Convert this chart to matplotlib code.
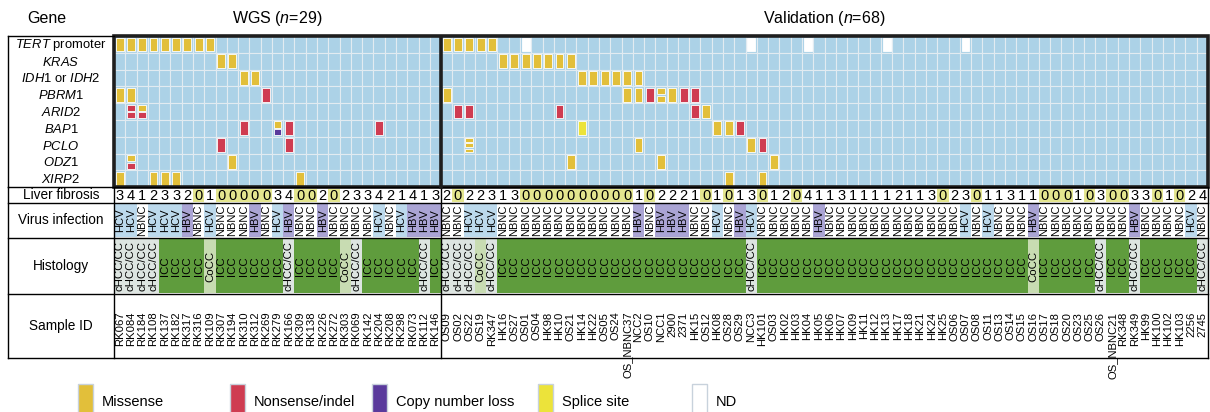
import matplotlib
matplotlib.use("Agg")
import matplotlib.pyplot as plt
from matplotlib.patches import Rectangle

plt.rcParams['font.family'] = ['Liberation Sans', 'DejaVu Sans']
plt.rcParams['mathtext.fontset'] = 'custom'
plt.rcParams['mathtext.it'] = 'Liberation Sans:italic'
plt.rcParams['mathtext.rm'] = 'Liberation Sans'

# ---------------- data ----------------
gene_labels = [r"$\it{TERT}$ promoter", r"$\it{KRAS}$", r"$\it{IDH1}$ or $\it{IDH2}$",
               r"$\it{PBRM1}$", r"$\it{ARID2}$", r"$\it{BAP1}$", r"$\it{PCLO}$",
               r"$\it{ODZ1}$", r"$\it{XIRP2}$"]

wgs_ids = ("RK067 RK084 RK184 RK108 RK137 RK182 RK317 RK316 RK109 RK307 RK194 RK310 "
           "RK312 RK269 RK279 RK166 RK309 RK138 RK226 RK272 RK303 RK069 RK142 RK204 "
           "RK208 RK298 RK073 RK112 RK146").split()
val_ids = ("OS09 OS02 OS22 OS19 RK347 HK16 OS27 OS01 OS04 HK98 HK10 OS21 HK14 HK22 OS05 "
           "OS24 OS_NBNC37 NCC2 OS10 NCC1 2900 2371 HK15 OS12 HK08 OS28 OS29 NCC3 HK101 "
           "OS03 HK02 HK03 HK04 HK05 HK06 HK07 HK09 HK11 HK12 HK13 HK17 HK18 HK21 HK24 "
           "HK25 OS06 OS07 OS08 OS11 OS13 OS14 OS15 OS16 OS17 OS18 OS20 OS23 OS25 OS26 "
           "OS_NBNC21 RK348 RK349 HK99 HK100 HK102 HK103 2256 2745").split()

wgs_fibrosis = [3, 4, 1, 2, 3, 3, 2, 0, 1, 0, 0, 0, 0, 0, 3, 4, 0, 0, 2, 0, 2, 3, 3, 4, 2, 1, 4, 1, 3]
val_fibrosis = [2, 0, 2, 2, 3, 1, 3, 0, 0, 0, 0, 0, 0, 0, 0, 0, 0, 1, 0, 2, 2, 2, 1, 0, 1, 0, 1, 3,
                0, 1, 2, 0, 4, 1, 1, 3, 1, 1, 1, 1, 2, 1, 1, 3, 0, 2, 3, 0, 1, 1, 3, 1, 1, 0, 0, 0,
                1, 0, 3, 0, 0, 3, 3, 0, 1, 0, 2, 4]

wgs_virus = ("HCV HCV NBNC HCV HCV HCV HBV NBNC HCV NBNC NBNC NBNC HBV NBNC HCV HBV NBNC "
             "NBNC HBV NBNC NBNC NBNC NBNC HCV NBNC HCV HBV HBV HBV").split()
val_virus = ("NBNC NBNC HCV HCV HCV NBNC NBNC NBNC NBNC NBNC NBNC NBNC NBNC NBNC NBNC NBNC "
             "NBNC HBV NBNC HBV HBV HBV NBNC NBNC HCV NBNC HBV HCV NBNC NBNC NBNC NBNC NBNC "
             "HBV NBNC NBNC NBNC NBNC NBNC NBNC NBNC NBNC NBNC NBNC NBNC NBNC HCV NBNC HCV "
             "NBNC NBNC NBNC HBV NBNC NBNC NBNC NBNC NBNC NBNC NBNC NBNC HBV NBNC NBNC NBNC "
             "NBNC HCV NBNC").split()

wgs_histology = ("cHCC/CC cHCC/CC cHCC/CC cHCC/CC ICC ICC ICC ICC CoCC ICC ICC ICC ICC ICC "
                 "ICC cHCC/CC ICC ICC ICC ICC CoCC cHCC/CC ICC ICC ICC ICC ICC cHCC/CC ICC").split()
val_histology = ("cHCC/CC cHCC/CC cHCC/CC CoCC cHCC/CC ICC ICC ICC ICC ICC ICC ICC ICC ICC ICC "
                 "ICC ICC ICC ICC ICC ICC ICC ICC ICC ICC ICC ICC cHCC/CC ICC ICC ICC ICC ICC "
                 "ICC ICC ICC ICC ICC ICC ICC ICC ICC ICC ICC ICC ICC ICC ICC ICC ICC ICC ICC "
                 "CoCC ICC ICC ICC ICC ICC cHCC/CC ICC ICC cHCC/CC ICC ICC ICC ICC ICC cHCC/CC").split()

# mutation codes per gene row: sample number (1-based) -> codes
# M missense, N nonsense/indel, C copy number loss, S splice site, D not determined
wgs_mut = [
    {1: "M", 2: "M", 3: "M", 4: "M", 5: "M", 6: "M", 7: "M", 8: "M", 9: "M"},
    {10: "M", 11: "M"},
    {12: "M", 13: "M"},
    {1: "M", 2: "M", 14: "N"},
    {2: "NN", 3: "MN"},
    {12: "N", 15: "MC", 16: "N", 24: "N"},
    {10: "N", 16: "N"},
    {2: "MN", 11: "M"},
    {1: "M", 4: "M", 5: "M", 6: "M", 17: "M"},
]
val_mut = [
    {1: "M", 2: "M", 3: "M", 4: "M", 5: "M", 8: "D", 28: "D", 33: "D", 40: "D", 47: "D"},
    {6: "M", 7: "M", 8: "M", 9: "M", 10: "M", 11: "M", 12: "M"},
    {13: "M", 14: "M", 15: "M", 16: "M", 17: "M", 18: "M"},
    {1: "M", 17: "M", 18: "M", 19: "N", 20: "MM", 21: "M", 22: "N", 23: "N"},
    {2: "N", 3: "N", 11: "N", 23: "N", 24: "M"},
    {13: "S", 25: "M", 26: "M", 27: "N"},
    {3: "MMM", 18: "M", 28: "M", 29: "N"},
    {12: "M", 20: "M", 30: "M"},
    {26: "M", 29: "M"},
]

legend_labels = ["Missense", "Nonsense/indel", "Copy number loss", "Splice site", "ND"]
legend_codes = ["M", "N", "C", "S", "D"]

# ---------------- styles ----------------
mut_colors = {"M": "#e2bf3a", "N": "#cf3c51", "C": "#5a3a9c", "S": "#ece33a", "D": "#ffffff"}
virus_colors = {"HCV": "#bcd9ec", "HBV": "#aaa4d4", "NBNC": "#ffffff"}
hist_colors = {"ICC": "#5f9c3d", "cHCC/CC": "#dde5e1", "CoCC": "#c8dcb2"}
cell_blue = "#acd2e7"
zero_color = "#e4e68f"

n_genes = len(gene_labels)
ids = wgs_ids + val_ids
fibrosis = wgs_fibrosis + val_fibrosis
virus = wgs_virus + val_virus
histology = wgs_histology + val_histology
n_wgs = len(wgs_ids)
n_all = len(ids)
label_left = -9.4

# row boundaries (gene rows are 1 unit each)
fib_top, vir_top, his_top, sam_top, bottom = 9.0, 9.94, 12.02, 15.36, 19.17

fig = plt.figure(figsize=(12.1, 4.12), dpi=100)
ax = fig.add_axes([8 / 1210, (412 - 358) / 412, 1200 / 1210, 322 / 412])
ax.set_xlim(label_left, n_all)
ax.set_ylim(bottom, 0)
ax.axis("off")

# gene matrix background cells
for g in range(n_genes):
    for i in range(n_all):
        ax.add_patch(Rectangle((i, g), 1, 1, facecolor=cell_blue,
                               edgecolor="#e2ebf1", lw=0.8))


def draw_mut(x, y, codes):
    n = len(codes)
    gap = 0.1
    h = (0.82 - gap * (n - 1)) / n
    for k, c in enumerate(codes):
        ax.add_patch(Rectangle((x + 0.15, y + 0.09 + k * (h + gap)), 0.7, h,
                               facecolor=mut_colors[c], edgecolor="white", lw=0.6))


for g in range(n_genes):
    for s, codes in wgs_mut[g].items():
        draw_mut(s - 1, g, codes)
    for s, codes in val_mut[g].items():
        draw_mut(n_wgs + s - 1, g, codes)

# gene labels
for g, lab in enumerate(gene_labels):
    ax.text(label_left / 2, g + 0.55, lab, ha="center", va="center", fontsize=9.4)

# liver fibrosis
for i, v in enumerate(fibrosis):
    if v == 0:
        ax.add_patch(Rectangle((i, fib_top + 0.08), 1, vir_top - fib_top - 0.16,
                               facecolor=zero_color, edgecolor="none"))
    ax.text(i + 0.5, (fib_top + vir_top) / 2 + 0.05, str(v), ha="center", va="center",
            fontsize=10.5)

# virus infection
for i, v in enumerate(virus):
    ax.add_patch(Rectangle((i, vir_top + 0.05), 1, his_top - vir_top - 0.1,
                           facecolor=virus_colors[v], edgecolor="none"))
    ax.text(i + 0.5, (vir_top + his_top) / 2, v, ha="center", va="center",
            rotation=90, fontsize=8)

# histology
for i, h in enumerate(histology):
    ax.add_patch(Rectangle((i, his_top + 0.05), 1, sam_top - his_top - 0.1,
                           facecolor=hist_colors[h], edgecolor="none"))
    ax.text(i + 0.5, (his_top + sam_top) / 2, h, ha="center", va="center",
            rotation=90, fontsize=8.2)

# sample IDs
for i, s in enumerate(ids):
    ax.text(i + 0.5, sam_top + 1.05, s, ha="center", va="top", rotation=90,
            fontsize=8.1, clip_on=False)

# row labels
for lab, y0, y1 in [("Liver fibrosis", fib_top, vir_top), ("Virus infection", vir_top, his_top),
                    ("Histology", his_top, sam_top), ("Sample ID", sam_top, bottom)]:
    ax.text(label_left / 2, (y0 + y1) / 2, lab, ha="center", va="center", fontsize=9.8)

# borders
lw = 1.0
for y in [fib_top, vir_top, his_top, sam_top, bottom]:
    ax.plot([label_left, n_all], [y, y], color="black", lw=lw, clip_on=False)
for x in [label_left, 0, n_wgs, n_all]:
    ax.plot([x, x], [fib_top, bottom], color="black", lw=lw, clip_on=False)
ax.plot([label_left, 0], [0, 0], color="black", lw=lw, clip_on=False)
ax.plot([label_left, label_left], [0, fib_top], color="black", lw=lw, clip_on=False)
ax.add_patch(Rectangle((0, 0), n_all, n_genes, facecolor="none", edgecolor="#1e1e1e",
                       lw=2.6, clip_on=False))
ax.plot([n_wgs, n_wgs], [0, n_genes], color="#1e1e1e", lw=2.6)

# headers
ax.text(-6.0, -1.05, "Gene", ha="center", va="center", fontsize=11.5, clip_on=False)
ax.text(n_wgs / 2, -1.05, r"WGS ($\it{n}$=29)", ha="center", va="center", fontsize=11.5,
        clip_on=False)
ax.text((n_wgs + n_all) / 2, -1.05, r"Validation ($\it{n}$=68)", ha="center", va="center",
        fontsize=11.5, clip_on=False)

# legend
lax = fig.add_axes([0, 0, 1, 40 / 412])
lax.set_xlim(0, 1210)
lax.set_ylim(40, 0)
lax.axis("off")
leg_x = [78, 230, 372, 538, 692]
for x, c, lab in zip(leg_x, legend_codes, legend_labels):
    lax.add_patch(Rectangle((x, 12), 15, 30, facecolor=mut_colors[c],
                            edgecolor="#c8d2dc", lw=1.0, clip_on=False))
    lax.text(x + 24, 30, lab, ha="left", va="center", fontsize=10.5)

fig.savefig("out.png", dpi=100)
